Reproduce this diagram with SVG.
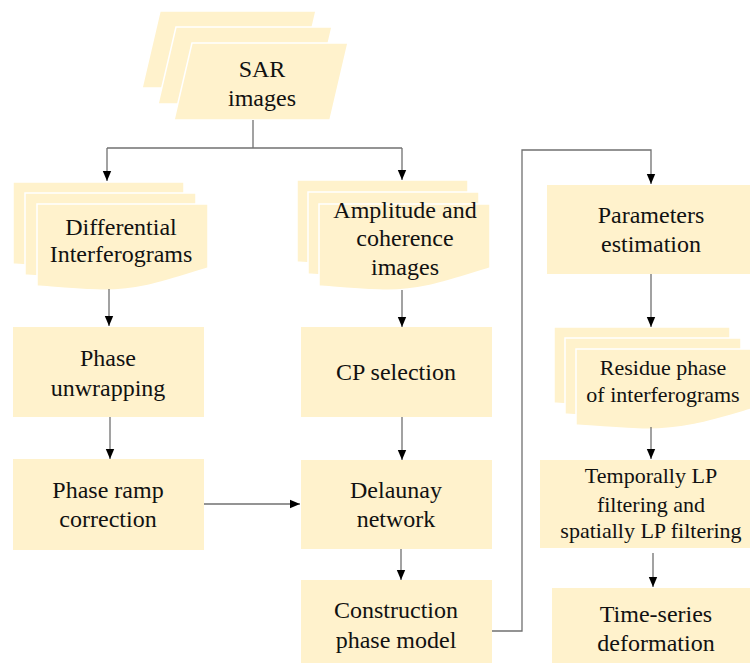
<svg xmlns="http://www.w3.org/2000/svg" width="750" height="663" viewBox="0 0 750 663">
<style>
.box{fill:#FFF2CC;stroke:none}
.lay{fill:#FFF2CC;stroke:#ffffff;stroke-width:1.5}
.t{font-family:'Liberation Serif','Times New Roman',serif;font-size:24px;fill:#111;text-anchor:middle}
.s{font-size:22px}
.c{fill:none;stroke:#707070;stroke-width:1.3}
</style>
<defs>
<marker id="ah" markerUnits="userSpaceOnUse" markerWidth="10" markerHeight="10" viewBox="0 0 10 10" refX="10" refY="5" orient="auto">
<path d="M0,0.8 L10,5 L0,9.2 Z" fill="#000"/>
</marker>
<path id="doc" d="M0,0 H171 V64 C138,74 103,88 60,86 C33,85 15,83 0,82 Z"/>
<path id="doc2" d="M0,0 H176 V60 C142,70 106,82 62,80 C34,79 15,77 0,76 Z"/>
</defs>
<rect width="750" height="663" fill="#fff"/>
<g id="sar">
<polygon class="lay" points="160,11 316,11 298,88 142,88"/>
<polygon class="lay" points="176,27 332,27 314,104 158,104"/>
<polygon class="lay" points="192,43 348,43 330,120 174,120"/>
<text class="t" x="262" y="77" font-size="25">SAR</text>
<text class="t" x="262" y="106" font-size="25">images</text>
</g>

<g id="diff">
<use href="#doc" class="lay" transform="translate(13,182)"/>
<use href="#doc" class="lay" transform="translate(25,193)"/>
<use href="#doc" class="lay" transform="translate(37,204)"/>
<text class="t" x="121" y="235">Differential</text>
<text class="t" x="121" y="262">Interferograms</text>
</g>

<g id="amp">
<use href="#doc" class="lay" transform="translate(297,180)"/>
<use href="#doc" class="lay" transform="translate(308,192)"/>
<use href="#doc" class="lay" transform="translate(319,204)"/>
<text class="t" x="405" y="218">Amplitude and</text>
<text class="t" x="405" y="246">coherence</text>
<text class="t" x="405" y="275">images</text>
</g>

<g id="unwrap">
<rect class="box" x="13" y="327" width="191" height="90"/>
<text class="t" x="108" y="366">Phase</text>
<text class="t" x="108" y="396">unwrapping</text>
</g>

<g id="ramp">
<rect class="box" x="13" y="459" width="191" height="91"/>
<text class="t" x="108" y="498">Phase ramp</text>
<text class="t" x="108" y="527">correction</text>
</g>

<g id="cp">
<rect class="box" x="301" y="327" width="191" height="90"/>
<text class="t" x="396" y="380">CP selection</text>
</g>

<g id="delaunay">
<rect class="box" x="301" y="460" width="191" height="89"/>
<text class="t" x="396" y="498">Delaunay</text>
<text class="t" x="396" y="527">network</text>
</g>

<g id="construct">
<rect class="box" x="301" y="580" width="191" height="83"/>
<text class="t" x="396" y="618">Construction</text>
<text class="t" x="396" y="648">phase model</text>
</g>

<g id="params">
<rect class="box" x="547" y="185" width="203" height="89"/>
<text class="t" x="651" y="223">Parameters</text>
<text class="t" x="651" y="252">estimation</text>
</g>

<g id="residue">
<use href="#doc2" class="lay" transform="translate(554,327)"/>
<use href="#doc2" class="lay" transform="translate(565,338)"/>
<use href="#doc2" class="lay" transform="translate(576,349)"/>
<text class="t s" x="663" y="375">Residue phase</text>
<text class="t s" x="663" y="402">of interferograms</text>
</g>

<g id="lpfilter">
<rect class="box" x="540" y="460" width="210" height="88"/>
<text class="t s" x="651" y="483">Temporally LP</text>
<text class="t s" x="651" y="512">filtering and</text>
<text class="t s" x="651" y="538">spatially LP filtering</text>
</g>

<g id="timeseries">
<rect class="box" x="552" y="588" width="198" height="75"/>
<text class="t" x="656" y="622">Time-series</text>
<text class="t" x="656" y="651">deformation</text>
</g>
<g id="connectors">
<polyline class="c" points="253,120 253,148"/>
<polyline class="c" points="107,148 402,148"/>
<polyline class="c" points="107,148 107,181" marker-end="url(#ah)"/>
<polyline class="c" points="402,148 402,180" marker-end="url(#ah)"/>
<polyline class="c" points="109,289 109,326" marker-end="url(#ah)"/>
<polyline class="c" points="110,417 110,459" marker-end="url(#ah)"/>
<polyline class="c" points="204,504 300,504" marker-end="url(#ah)"/>
<polyline class="c" points="402,290 402,327" marker-end="url(#ah)"/>
<polyline class="c" points="402,417 402,460" marker-end="url(#ah)"/>
<polyline class="c" points="401,549 401,580" marker-end="url(#ah)"/>
<polyline class="c" points="492,631 522,631 522,150 651,150 651,184" marker-end="url(#ah)"/>
<polyline class="c" points="651,274 651,327" marker-end="url(#ah)"/>
<polyline class="c" points="651,427 651,459" marker-end="url(#ah)"/>
<polyline class="c" points="653,553 653,587" marker-end="url(#ah)"/>
</g>
</svg>
